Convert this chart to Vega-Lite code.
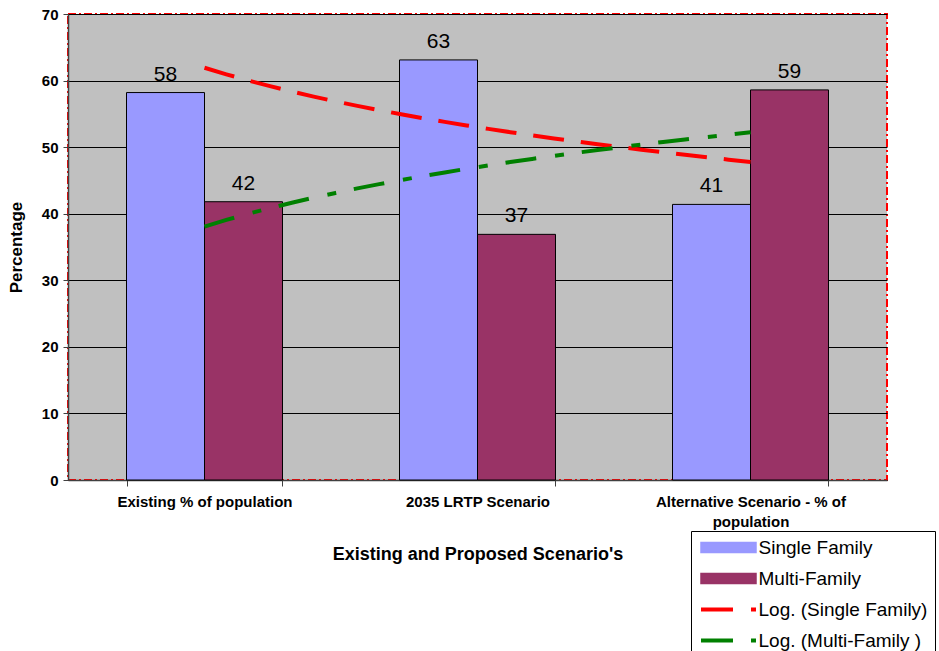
{
  "$schema": "https://vega.github.io/schema/vega-lite/v6.json",
  "width": 819,
  "height": 466,
  "autosize": {"type": "none"},
  "padding": {"left": 68, "top": 14, "right": 52, "bottom": 171},
  "background": "white",
  "config": {
    "font": "Liberation Sans",
    "view": {"fill": "#C0C0C0", "stroke": "#FF0000", "strokeWidth": 2, "strokeDash": [8, 3, 2, 3]},
    "axis": {
      "labelFont": "Liberation Sans",
      "labelFontWeight": "bold",
      "labelColor": "black",
      "titleFont": "Liberation Sans",
      "titleFontWeight": "bold",
      "titleColor": "black",
      "domainColor": "#404040",
      "domainWidth": 1.5,
      "tickColor": "#404040"
    },
    "legend": {
      "title": null,
      "orient": "none",
      "legendX": 623,
      "legendY": 517,
      "direction": "vertical",
      "strokeColor": "black",
      "fillColor": "white",
      "padding": 7,
      "symbolSize": 100,
      "symbolOffset": 21,
      "labelOffset": 20.5,
      "labelFontSize": 19,
      "labelFont": "Liberation Sans",
      "labelColor": "black",
      "labelLimit": 400,
      "rowPadding": 11
    }
  },
  "data": {
    "values": [
      {"scenario": "Existing % of population", "idx": 1, "series": "Single Family", "trend": "Log. (Single Family)", "value": 58.2},
      {"scenario": "Existing % of population", "idx": 1, "series": "Multi-Family", "trend": "Log. (Multi-Family )", "value": 41.8},
      {"scenario": "2035 LRTP Scenario", "idx": 2, "series": "Single Family", "trend": "Log. (Single Family)", "value": 63.1},
      {"scenario": "2035 LRTP Scenario", "idx": 2, "series": "Multi-Family", "trend": "Log. (Multi-Family )", "value": 36.9},
      {"scenario": "Alternative Scenario - % of population", "idx": 3, "series": "Single Family", "trend": "Log. (Single Family)", "value": 41.4},
      {"scenario": "Alternative Scenario - % of population", "idx": 3, "series": "Multi-Family", "trend": "Log. (Multi-Family )", "value": 58.6}
    ]
  },
  "layer": [
    {
      "mark": {"type": "bar", "stroke": "black", "strokeWidth": 1},
      "encoding": {
        "x": {
          "field": "scenario",
          "type": "nominal",
          "sort": ["Existing % of population", "2035 LRTP Scenario", "Alternative Scenario - % of population"],
          "scale": {"paddingInner": 0.4286, "paddingOuter": 0.2143},
          "axis": {
            "title": "Existing and Proposed Scenario's",
            "titleFontSize": 18,
            "titlePadding": 16,
            "labelFontSize": 15,
            "labelAngle": 0,
            "labelPadding": 8,
            "labelLimit": 300,
            "labelLineHeight": 20,
            "tickSize": 6,
            "tickBand": "extent",
            "labelExpr": "datum.value == 'Alternative Scenario - % of population' ? ['Alternative Scenario - % of', 'population'] : datum.label"
          }
        },
        "xOffset": {
          "field": "series",
          "type": "nominal",
          "sort": ["Single Family", "Multi-Family"],
          "scale": {"paddingInner": 0, "paddingOuter": 0}
        },
        "y": {
          "field": "value",
          "type": "quantitative",
          "scale": {"domain": [0, 70], "nice": false},
          "axis": {
            "values": [0, 10, 20, 30, 40, 50, 60, 70],
            "title": "Percentage",
            "titleFontSize": 17,
            "titlePadding": 16,
            "labelFontSize": 15,
            "labelPadding": 5,
            "tickSize": 5,
            "gridColor": "black",
            "gridWidth": 1,
            "gridOpacity": 1
          }
        },
        "color": {
          "field": "series",
          "type": "nominal",
          "scale": {
            "domain": ["Single Family", "Multi-Family", "Log. (Single Family)", "Log. (Multi-Family )"],
            "range": ["#9999FF", "#993366", "#FF0000", "#008000"]
          },
          "legend": {
            "encode": {
              "symbols": {
                "update": {
                  "shape": {"signal": "(datum.value == 'Log. (Single Family)' || datum.value == 'Log. (Multi-Family )') ? 'M-5.5,0H0.9M4.5,0H5.5' : 'M-5.5,-1H5.5V1H-5.5Z'"},
                  "fill": {"signal": "datum.value == 'Single Family' ? '#9999FF' : datum.value == 'Multi-Family' ? '#993366' : 'transparent'"},
                  "stroke": {"signal": "datum.value == 'Log. (Single Family)' ? '#FF0000' : datum.value == 'Log. (Multi-Family )' ? '#008000' : 'black'"},
                  "strokeWidth": {"signal": "(datum.value == 'Log. (Single Family)' || datum.value == 'Log. (Multi-Family )') ? 4 : 1.5"},
                  "opacity": {"value": 1}
                }
              }
            }
          }
        }
      }
    },
    {
      "mark": {"type": "text", "fontSize": 21, "baseline": "alphabetic", "dy": -12, "font": "Liberation Sans", "color": "black"},
      "encoding": {
        "x": {
          "field": "scenario",
          "type": "nominal",
          "sort": ["Existing % of population", "2035 LRTP Scenario", "Alternative Scenario - % of population"],
          "scale": {"paddingInner": 0.4286, "paddingOuter": 0.2143},
          "axis": null
        },
        "xOffset": {
          "field": "series",
          "type": "nominal",
          "sort": ["Single Family", "Multi-Family"],
          "scale": {"paddingInner": 0, "paddingOuter": 0}
        },
        "y": {"field": "value", "type": "quantitative", "scale": {"domain": [0, 70], "nice": false}},
        "text": {"field": "value", "type": "quantitative", "format": ".0f"}
      }
    },
    {
      "transform": [{"regression": "value", "on": "idx", "method": "log", "groupby": ["trend"]}],
      "mark": {"type": "line", "strokeWidth": 4, "strokeCap": "butt"},
      "encoding": {
        "x": {
          "field": "idx",
          "type": "quantitative",
          "scale": {"domain": [0.5, 3.5], "nice": false, "zero": false},
          "axis": null
        },
        "y": {"field": "value", "type": "quantitative", "scale": {"domain": [0, 70], "nice": false}},
        "color": {
          "field": "trend",
          "type": "nominal",
          "legend": {
            "encode": {
              "symbols": {
                "update": {
                  "shape": {"signal": "(datum.value == 'Log. (Single Family)' || datum.value == 'Log. (Multi-Family )') ? 'M-5.5,0H0.9M4.5,0H5.5' : 'M-5.5,-1H5.5V1H-5.5Z'"},
                  "fill": {"signal": "datum.value == 'Single Family' ? '#9999FF' : datum.value == 'Multi-Family' ? '#993366' : 'transparent'"},
                  "stroke": {"signal": "datum.value == 'Log. (Single Family)' ? '#FF0000' : datum.value == 'Log. (Multi-Family )' ? '#008000' : 'black'"},
                  "strokeWidth": {"signal": "(datum.value == 'Log. (Single Family)' || datum.value == 'Log. (Multi-Family )') ? 4 : 1.5"},
                  "opacity": {"value": 1}
                }
              }
            }
          }
        },
        "strokeDash": {
          "field": "trend",
          "type": "nominal",
          "scale": {"domain": ["Log. (Single Family)", "Log. (Multi-Family )"], "range": [[31, 17], [31, 19, 9, 18]]},
          "legend": null
        }
      }
    }
  ],
  "resolve": {"scale": {"x": "independent"}}
}
